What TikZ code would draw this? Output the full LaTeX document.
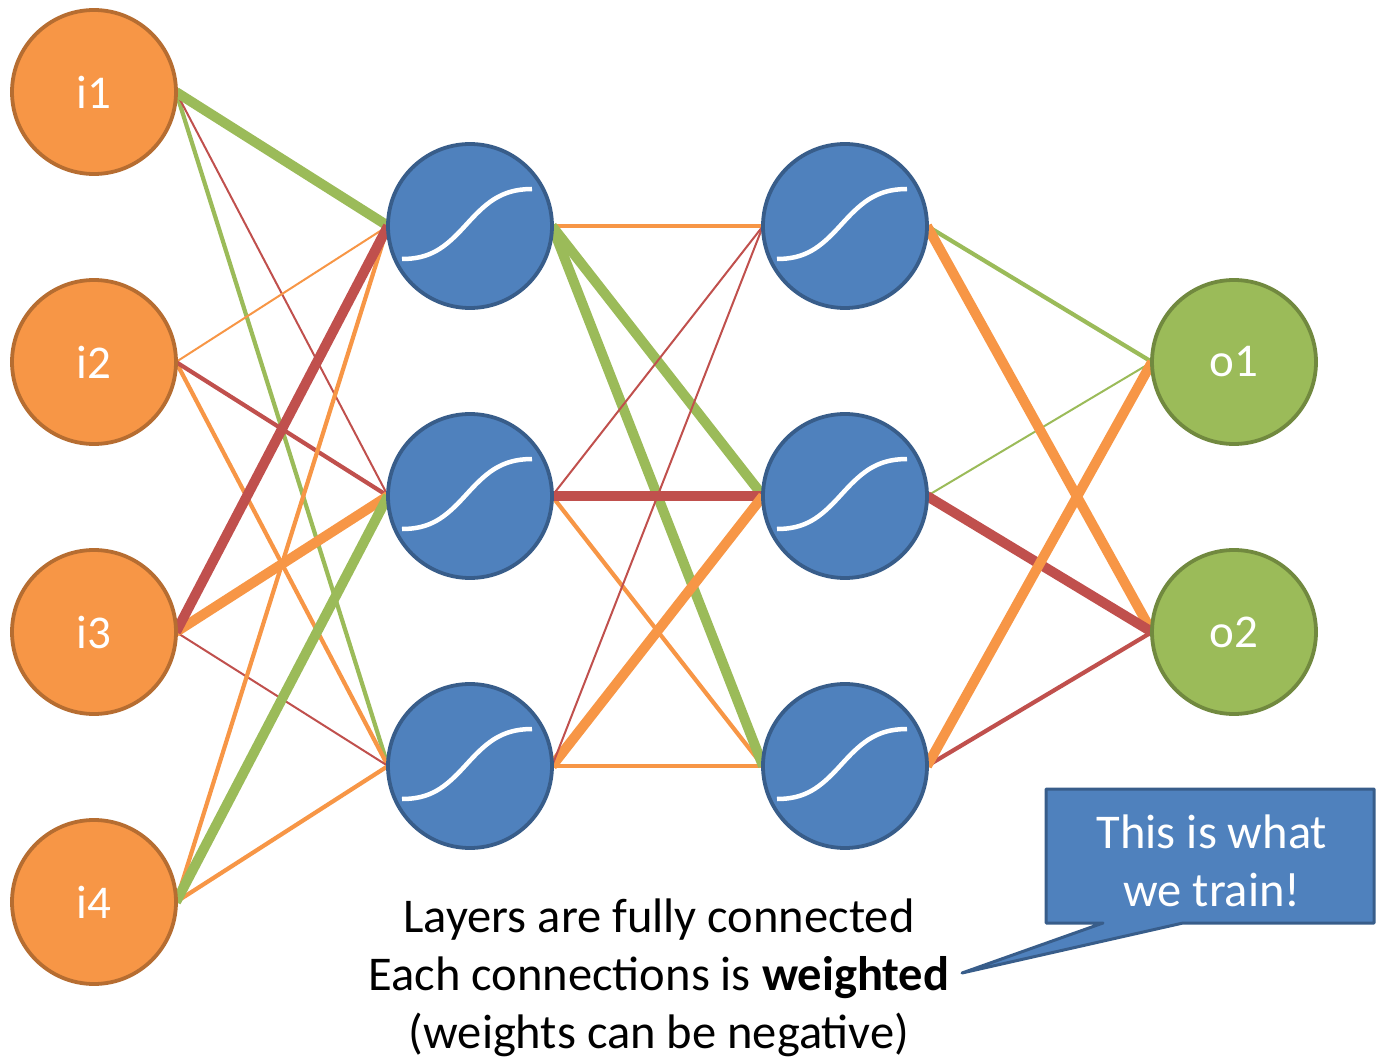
\documentclass[tikz,border=0pt]{standalone}
\usepackage{fontspec}
\setmainfont{Carlito}
\usetikzlibrary{backgrounds}

\definecolor{orfill}{HTML}{F79646}
\definecolor{orline}{HTML}{B66D31}
\definecolor{blfill}{HTML}{4F81BD}
\definecolor{blline}{HTML}{385D8A}
\definecolor{grfill}{HTML}{9BBB59}
\definecolor{grline}{HTML}{71893F}
\definecolor{rdline}{HTML}{C0504D}

\tikzset{
  neuron/.style={circle, minimum size=164pt, inner sep=0pt, outer sep=0pt,
    line width=3.8pt, text=white, font=\fontsize{47}{55}\selectfont},
  innode/.style={neuron, fill=orfill, draw=orline},
  hidnode/.style={neuron, fill=blfill, draw=blline},
  outnode/.style={neuron, fill=grfill, draw=grline},
  wthin/.style={line width=2pt},
  wmid/.style={line width=4.2pt},
  wthick/.style={line width=10pt},
  eg/.style={draw=grfill},
  eo/.style={draw=orfill},
  er/.style={draw=rdline},
  sigmoid/.pic={
    \draw[white, line width=4.5pt]
      (-68,33) .. controls (-40,33) and (-25,22) .. (-5,0)
      .. controls (15,-22) and (30,-37) .. (62,-37);
  }
}

\begin{document}
\begin{tikzpicture}[x=1pt, y=-1pt]
  \useasboundingbox (0,0) rectangle (1377,1059);

  % input layer
  \node[innode] (i1) at (94,92)  {i1};
  \node[innode] (i2) at (94,362) {i2};
  \node[innode] (i3) at (94,632) {i3};
  \node[innode] (i4) at (94,902) {i4};

  % first hidden layer
  \node[hidnode] (a1) at (470,226) {};
  \node[hidnode] (a2) at (470,496) {};
  \node[hidnode] (a3) at (470,766) {};

  % second hidden layer
  \node[hidnode] (b1) at (845,226) {};
  \node[hidnode] (b2) at (845,496) {};
  \node[hidnode] (b3) at (845,766) {};

  % output layer
  \node[outnode] (o1) at (1234,362) {o1};
  \node[outnode] (o2) at (1234,632) {o2};

  % activation curves
  \foreach \n in {a1,a2,a3,b1,b2,b3} {
    \pic at (\n) {sigmoid};
  }

  % weighted connections
  \begin{scope}[on background layer]
    % inputs -> first hidden layer
    \draw[eg, wmid]   (i1.east) -- (a3.west);
    \draw[er, wthin]  (i1.east) -- (a2.west);
    \draw[eo, wthin]  (i2.east) -- (a1.west);
    \draw[eo, wmid]   (i2.east) -- (a3.west);
    \draw[er, wmid]   (i2.east) -- (a2.west);
    \draw[er, wthin]  (i3.east) -- (a3.west);
    \draw[eo, wmid]   (i4.east) -- (a1.west);
    \draw[eo, wmid]   (i4.east) -- (a3.west);
    \draw[eg, wthick] (i1.east) -- (a1.west);
    \draw[eo, wthick] (i3.east) -- (a2.west);
    \draw[eg, wthick] (i4.east) -- (a2.west);
    \draw[er, wthick] (i3.east) -- (a1.west);

    % first -> second hidden layer
    \draw[eo, wmid]   (a1.east) -- (b1.west);
    \draw[eo, wmid]   (a2.east) -- (b3.west);
    \draw[eo, wmid]   (a3.east) -- (b3.west);
    \draw[eg, wthick] (a1.east) -- (b2.west);
    \draw[eg, wthick] (a1.east) -- (b3.west);
    \draw[er, wthick] (a2.east) -- (b2.west);
    \draw[eo, wthick] (a3.east) -- (b2.west);
    \draw[er, wthin]  (a2.east) -- (b1.west);
    \draw[er, wthin]  (a3.east) -- (b1.west);

    % second hidden layer -> outputs
    \draw[eg, wmid]   (b1.east) -- (o1.west);
    \draw[eg, wthin]  (b2.east) -- (o1.west);
    \draw[er, wmid]   (b3.east) -- (o2.west);
    \draw[eo, wthick] (b1.east) -- (o2.west);
    \draw[er, wthick] (b2.east) -- (o2.west);
    \draw[eo, wthick] (b3.east) -- (o1.west);
  \end{scope}

  % caption
  \node[font=\fontsize{48.5}{58}\selectfont, align=center, text=black,
        inner sep=0pt]
    (note) at (659,978)
    {Layers are fully connected\\
     Each connections is \textbf{weighted}\\
     (weights can be negative)};

  % callout
  \coordinate (tip) at (962,973);
  \draw[fill=blfill, draw=blline, line width=3pt, line join=round]
    (1046,789) -- (1374,789) -- (1374,923) -- (1183,923)
    -- (tip) -- (1103,923) -- (1046,923) -- cycle;
  \node[font=\fontsize{48.5}{58}\selectfont, align=center, text=white]
    (callout) at (1212,861) {This is what\\we train!};
\end{tikzpicture}
\end{document}
